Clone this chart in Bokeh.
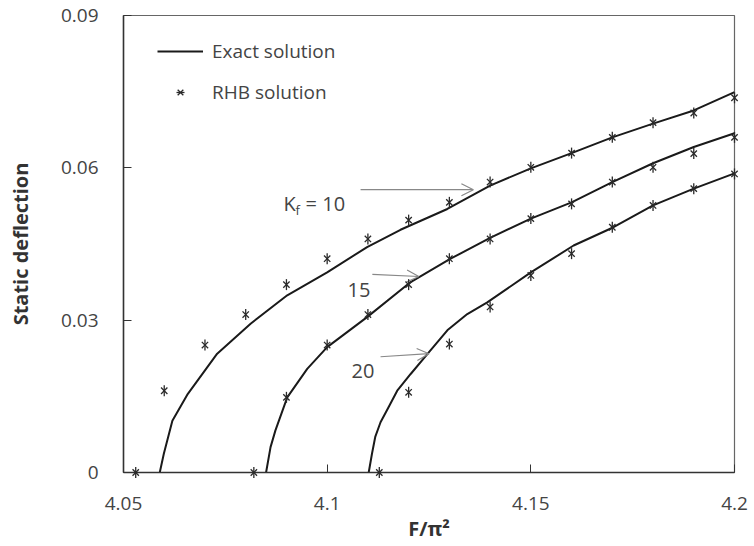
import math
from bokeh.plotting import figure
from bokeh.models import FixedTicker, Legend, LegendItem, Label, Arrow, OpenHead, Range1d
from bokeh.embed import file_html
from bokeh.resources import INLINE

# ---- data ----
x_ticks = [4.05, 4.1, 4.15, 4.2]
x_tick_labels = ["4.05", "4.1", "4.15", "4.2"]
y_ticks = [0, 0.03, 0.06, 0.09]
y_tick_labels = ["0", "0.03", "0.06", "0.09"]

exact_10_x = [4.0589, 4.0599, 4.0620, 4.0658, 4.0730, 4.0812, 4.0902, 4.1000, 4.1098, 4.1180,
              4.1295, 4.1400, 4.1500, 4.1600, 4.1700, 4.1800, 4.1900, 4.2000]
exact_10_y = [0.0, 0.0037, 0.0102, 0.0155, 0.0234, 0.0293, 0.0349, 0.0394, 0.0444, 0.0478,
              0.0519, 0.0565, 0.0599, 0.0629, 0.0660, 0.0687, 0.0713, 0.0749]
exact_15_x = [4.0850, 4.0861, 4.0873, 4.0902, 4.0951, 4.1000, 4.1098, 4.1205, 4.1303, 4.1400,
              4.1500, 4.1600, 4.1700, 4.1800, 4.1900, 4.2000]
exact_15_y = [0.0, 0.0050, 0.0083, 0.0148, 0.0204, 0.0247, 0.0306, 0.0375, 0.0421, 0.0462,
              0.0500, 0.0532, 0.0572, 0.0609, 0.0641, 0.0668]
exact_20_x = [4.1102, 4.1110, 4.1118, 4.1131, 4.1151, 4.1172, 4.1205, 4.1250, 4.1295, 4.1344,
              4.1393, 4.1500, 4.1605, 4.1703, 4.1800, 4.1900, 4.2000]
exact_20_y = [0.0, 0.0037, 0.0070, 0.0099, 0.0129, 0.0161, 0.0194, 0.0237, 0.0280, 0.0312,
              0.0335, 0.0394, 0.0447, 0.0483, 0.0526, 0.0559, 0.0589]

rhb_10_x = [4.053, 4.060, 4.070, 4.080, 4.090, 4.100, 4.110, 4.120, 4.130, 4.140,
            4.150, 4.160, 4.170, 4.180, 4.190, 4.200]
rhb_10_y = [0.0, 0.0161, 0.0251, 0.0311, 0.0370, 0.0421, 0.0460, 0.0497, 0.0532, 0.0572,
            0.0601, 0.0629, 0.0660, 0.0689, 0.0708, 0.0738]
rhb_15_x = [4.082, 4.090, 4.100, 4.110, 4.120, 4.130, 4.140, 4.150, 4.160, 4.170,
            4.180, 4.190, 4.200]
rhb_15_y = [0.0, 0.0148, 0.0251, 0.0311, 0.0370, 0.0421, 0.0460, 0.0500, 0.0529, 0.0572,
            0.0601, 0.0628, 0.0660]
rhb_20_x = [4.1128, 4.120, 4.130, 4.140, 4.150, 4.160, 4.170, 4.180, 4.190, 4.200]
rhb_20_y = [0.0, 0.0158, 0.0253, 0.0326, 0.0388, 0.0431, 0.0483, 0.0526, 0.0559, 0.0588]

# annotation texts and arrow positions (data units)
curve_labels = ["10", "15", "20"]
label_x = [4.0893, 4.1078, 4.1088]
label_y = [0.0529, 0.0359, 0.0200]
arrow_x0 = [4.1082, 4.1111, 4.1131]
arrow_y0 = [0.0557, 0.0390, 0.0228]
arrow_x1 = [4.1359, 4.1225, 4.1250]
arrow_y1 = [0.0557, 0.0386, 0.0234]

FONT = "Open Sans"
TXT = "#444444"

p = figure(width=754, height=546, output_backend="svg", toolbar_location=None,
           x_range=Range1d(4.05, 4.2), y_range=Range1d(0, 0.09),
           min_border_left=123, min_border_right=20, min_border_top=15, min_border_bottom=74,
           background_fill_color="white", border_fill_color="white")

p.xgrid.visible = False
p.ygrid.visible = False
p.outline_line_color = "#666666"
p.outline_line_width = 1.2

p.xaxis.ticker = FixedTicker(ticks=x_ticks)
p.yaxis.ticker = FixedTicker(ticks=y_ticks)
p.xaxis.major_label_overrides = {t: s for t, s in zip(x_ticks, x_tick_labels)}
p.yaxis.major_label_overrides = {t: s for t, s in zip(y_ticks, y_tick_labels)}
p.xaxis.axis_label = "F/π²"
p.yaxis.axis_label = "Static deflection"

for ax in (p.xaxis[0], p.yaxis[0]):
    ax.major_tick_in = 8
    ax.major_tick_out = 0
    ax.minor_tick_line_color = None
    ax.axis_line_color = "#333333"
    ax.axis_line_width = 1.5
    ax.major_tick_line_color = "#333333"
    ax.major_label_text_font = FONT
    ax.major_label_text_font_size = "19px"
    ax.major_label_text_color = TXT
    ax.axis_label_text_font = FONT
    ax.axis_label_text_font_style = "bold"
    ax.axis_label_text_font_size = "20px"
    ax.axis_label_text_color = "#333333"
p.xaxis.major_label_standoff = 24
p.yaxis.major_label_standoff = 25
p.xaxis.axis_label_standoff = 2
p.yaxis.axis_label_standoff = 24

line_kw = dict(line_color="#1a1a1a", line_width=2)
l10 = p.line(exact_10_x, exact_10_y, **line_kw)
p.line(exact_15_x, exact_15_y, **line_kw)
p.line(exact_20_x, exact_20_y, **line_kw)

star_kw = dict(line_color="#2a2a2a", line_width=1.3, level="overlay")
star_renderers = []
for xs, ys in ((rhb_10_x, rhb_10_y), (rhb_15_x, rhb_15_y), (rhb_20_x, rhb_20_y)):
    rx = p.scatter(xs, ys, marker="x", size=9, **star_kw)
    rd = p.scatter(xs, ys, marker="dash", angle=math.pi / 2, size=11, **star_kw)
    star_renderers.append((rx, rd))

legend = Legend(items=[LegendItem(label="Exact solution", renderers=[l10]),
                       LegendItem(label="RHB solution", renderers=list(star_renderers[0]))],
                location=(34, 367), glyph_width=46, glyph_height=20, label_height=20,
                spacing=15, padding=0, margin=0, label_standoff=9,
                border_line_alpha=0, background_fill_alpha=0,
                label_text_font=FONT, label_text_font_size="19px", label_text_color=TXT)
p.add_layout(legend)

lab_kw = dict(text_font=FONT, text_font_size="20px", text_color=TXT, text_baseline="middle")
# K_f = 10
p.add_layout(Label(x=label_x[0], y=label_y[0], text="K", **lab_kw))
p.add_layout(Label(x=label_x[0], y=label_y[0], x_offset=12, y_offset=-6, text="f",
                   text_font=FONT, text_font_size="13px", text_color=TXT, text_baseline="middle"))
p.add_layout(Label(x=label_x[0], y=label_y[0], x_offset=22, text="= " + curve_labels[0], **lab_kw))
for i in (1, 2):
    p.add_layout(Label(x=label_x[i], y=label_y[i], text=curve_labels[i], text_align="center", **lab_kw))

for i in range(3):
    p.add_layout(Arrow(x_start=arrow_x0[i], y_start=arrow_y0[i], x_end=arrow_x1[i], y_end=arrow_y1[i],
                       line_color="#888888", line_width=1.2,
                       end=OpenHead(size=12, line_color="#888888", line_width=1.2)))

open("out.html", "w").write(file_html(p, INLINE))
